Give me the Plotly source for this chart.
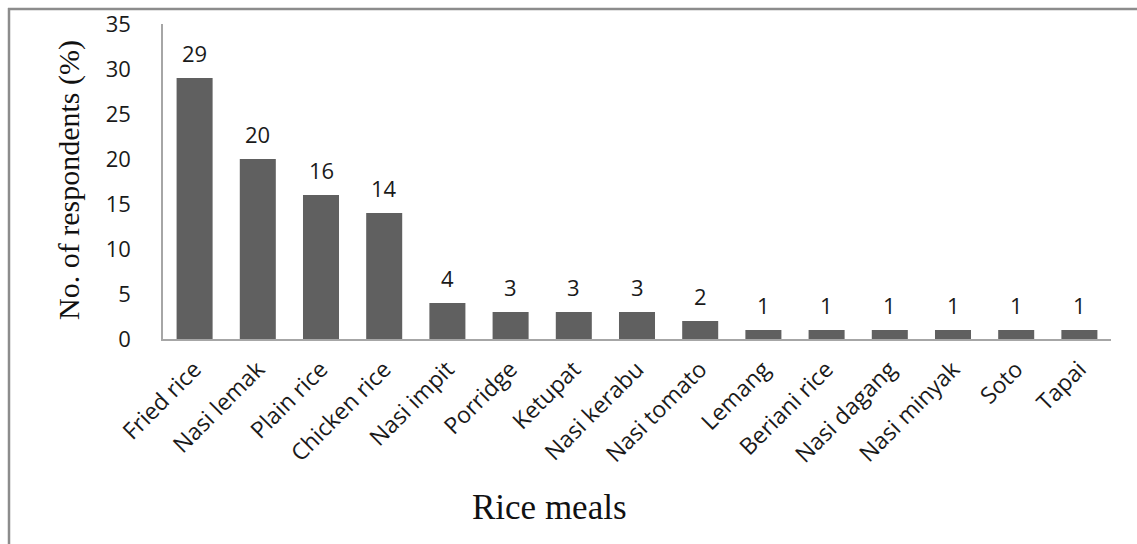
import plotly.graph_objects as go

categories = ["Fried rice", "Nasi lemak", "Plain rice", "Chicken rice", "Nasi impit",
              "Porridge", "Ketupat", "Nasi kerabu", "Nasi tomato", "Lemang",
              "Beriani rice", "Nasi dagang", "Nasi minyak", "Soto", "Tapai"]
values = [29, 20, 16, 14, 4, 3, 3, 3, 2, 1, 1, 1, 1, 1, 1]
y_ticks = [0, 5, 10, 15, 20, 25, 30, 35]

W, H = 1137, 544
ml, mr, mt, mb = 163, 26, 24, 205
pw = W - ml - mr
ph = H - mt - mb

def px_x(x):
    return (x - ml) / pw

def px_y(y):
    return (H - mb - y) / ph

fig = go.Figure()
fig.add_trace(go.Bar(x=categories, y=values, marker=dict(color="#606060", line=dict(width=0)),
                     hoverinfo="x+y"))

annotations = []
for c, v in zip(categories, values):
    annotations.append(dict(x=c, y=v, xref="x", yref="y", text=str(v), showarrow=False,
                            yshift=25, yanchor="middle",
                            font=dict(family="Open Sans", size=22, color="#1a1a1a")))
annotations.append(dict(x=px_x(549), y=px_y(508), xref="paper", yref="paper", text="Rice meals",
                        showarrow=False, xanchor="center", yanchor="middle",
                        font=dict(family="Liberation Serif", size=35, color="#111111")))
annotations.append(dict(x=px_x(69), y=px_y(180), xref="paper", yref="paper",
                        text="No. of respondents (%)", textangle=-90,
                        showarrow=False, xanchor="center", yanchor="middle",
                        font=dict(family="Liberation Serif", size=30, color="#111111")))

frame_col = "#8c8c8c"
shapes = [
    dict(type="line", xref="paper", yref="paper", x0=px_x(9), x1=px_x(9), y0=px_y(8), y1=px_y(580),
         line=dict(color=frame_col, width=2.5)),
    dict(type="line", xref="paper", yref="paper", x0=px_x(8), x1=px_x(1180), y0=px_y(9), y1=px_y(9),
         line=dict(color=frame_col, width=2.5)),
]

fig.update_layout(
    width=W, height=H,
    margin=dict(l=ml, r=mr, t=mt, b=mb),
    paper_bgcolor="white", plot_bgcolor="white",
    bargap=0.43,
    showlegend=False,
    annotations=annotations,
    shapes=shapes,
    font=dict(family="Open Sans", color="#1a1a1a"),
)
fig.update_xaxes(showline=True, linecolor="#a6a6a6", linewidth=1.5, showgrid=False,
                 ticks="", tickangle=-45, ticklabelstandoff=6,
                 tickfont=dict(family="Open Sans", size=23, color="#1a1a1a"),
                 automargin=False)
fig.update_yaxes(range=[0, 35], tickvals=y_ticks, showline=True, linecolor="#a6a6a6", linewidth=1.5,
                 showgrid=False, zeroline=False, ticks="", ticklabelstandoff=26,
                 tickfont=dict(family="Open Sans", size=22, color="#1a1a1a"), automargin=False)

fig.write_html("out.html")
